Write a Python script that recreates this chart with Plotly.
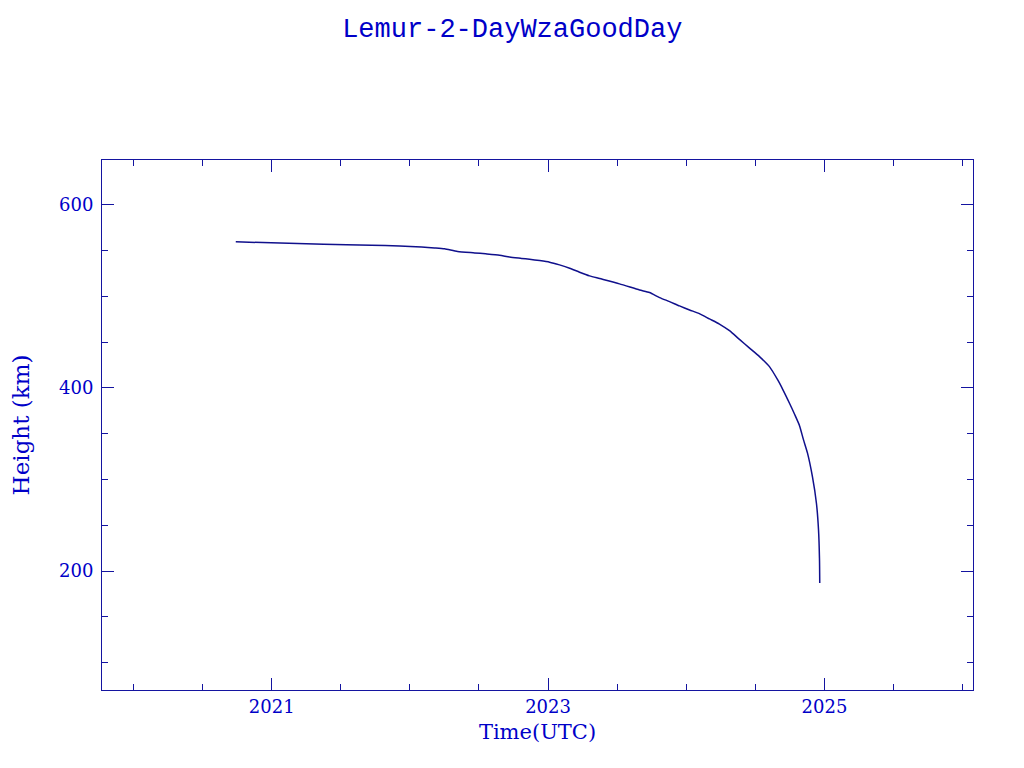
import plotly.graph_objects as go

# Decimal years (UTC) and heights (km)
years = [2020.740, 2021.376, 2021.723, 2021.926, 2022.085, 2022.179, 2022.251,
         2022.345, 2022.468, 2022.548, 2022.649, 2022.722, 2022.808, 2022.866,
         2022.939, 2023.011, 2023.083, 2023.156, 2023.228, 2023.300, 2023.373,
         2023.517, 2023.662, 2023.734, 2023.807, 2023.879, 2023.951, 2024.024,
         2024.098, 2024.168, 2024.240, 2024.313, 2024.385, 2024.458, 2024.530,
         2024.602, 2024.662, 2024.698, 2024.747, 2024.783, 2024.819, 2024.848,
         2024.877, 2024.913, 2024.942, 2024.957, 2024.964, 2024.966]
height_km = [559.6, 557.0, 556.0, 555.0, 554.0, 553.0, 552.0,
             549.0, 547.5, 546.5, 545.0, 543.0, 541.5, 540.5,
             539.1, 537.4, 534.4, 530.8, 526.4, 522.4, 519.5,
             513.7, 507.0, 504.2, 498.7, 494.3, 489.6, 485.2,
             480.9, 475.4, 469.8, 462.5, 453.0, 443.5, 434.2,
             423.3, 408.7, 398.5, 383.3, 371.5, 359.0, 343.5,
             329.0, 303.0, 274.0, 245.0, 214.0, 187.0]

title_text = "Lemur-2-DayWzaGoodDay"
x_title = "Time(UTC)"
y_title = "Height (km)"

axis_col = "#1414a0"
text_col = "#0000c8"
line_col = "#10108c"

fig = go.Figure()
fig.add_trace(go.Scatter(x=years, y=height_km, mode="lines",
                         line=dict(color=line_col, width=1.5, shape="spline", smoothing=0.6),
                         showlegend=False, hoverinfo="skip"))

fig.update_layout(
    width=1024, height=768,
    paper_bgcolor="white", plot_bgcolor="white",
    margin=dict(l=94, r=59, t=152, b=86, autoexpand=False),
    title=dict(text=title_text, x=0.4925, xanchor="center", y=0.974, yanchor="middle",
               font=dict(family="Liberation Mono", size=27, color=text_col)),
)

fig.update_xaxes(
    range=[2019.772, 2026.075], showgrid=False, zeroline=False, automargin=False,
    showline=True, linecolor=axis_col, linewidth=1, mirror="allticks",
    ticks="inside", ticklen=12, tickwidth=1, tickcolor=axis_col,
    tick0=2021, dtick=2, tickformat="d",
    minor=dict(ticks="inside", ticklen=6, tickwidth=1, tickcolor=axis_col,
               tick0=2021, dtick=0.5, showgrid=False),
    tickfont=dict(family="DejaVu Serif", size=18, color=text_col),
    title=dict(text=x_title, standoff=8,
               font=dict(family="DejaVu Serif", size=21, color=text_col)),
)
fig.update_yaxes(
    range=[70, 649], showgrid=False, zeroline=False, automargin=False,
    showline=True, linecolor=axis_col, linewidth=1, mirror="allticks",
    ticks="inside", ticklen=12, tickwidth=1, tickcolor=axis_col,
    tick0=0, dtick=200, ticklabelstandoff=4,
    minor=dict(ticks="inside", ticklen=6, tickwidth=1, tickcolor=axis_col,
               tick0=0, dtick=50, showgrid=False),
    tickfont=dict(family="DejaVu Serif", size=18, color=text_col),
    title=dict(text=y_title, standoff=37,
               font=dict(family="DejaVu Serif", size=23, color=text_col)),
)

fig.write_html("out.html")
